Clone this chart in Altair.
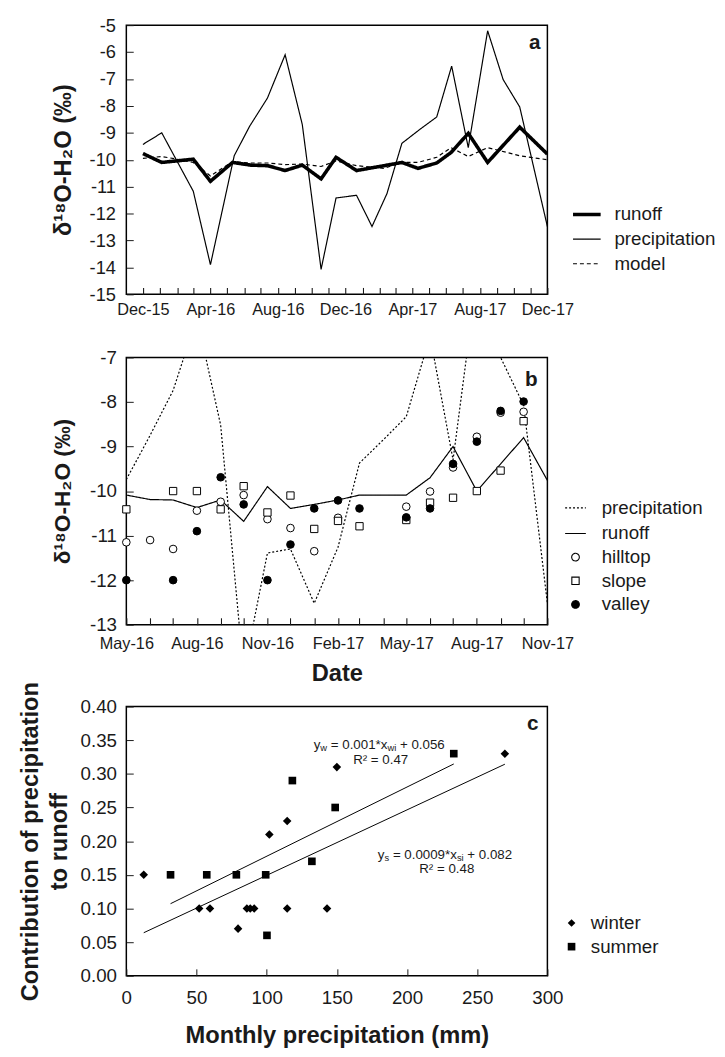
import json
import pandas as pd
import altair as alt

FONT = "Liberation Sans"
INK = "#1a1a1a"

# ---------------- Panel a : monthly d18O time series ----------------
A_SERIES = ["runoff", "precipitation", "model"]
A_PRECIP_DATES = ["2015-12-01", "2016-01-04", "2016-03-01", "2016-04-01", "2016-05-14",
                  "2016-06-11", "2016-07-13", "2016-08-14", "2016-09-14", "2016-10-18",
                  "2016-11-14", "2016-12-21", "2017-01-18", "2017-02-14", "2017-03-13",
                  "2017-04-14", "2017-05-15", "2017-06-11", "2017-07-11", "2017-08-15",
                  "2017-09-12", "2017-10-12", "2017-12-01"]
A_PRECIP = [-9.43, -9.0, -11.17, -13.9, -9.85, -8.75, -7.71, -6.1, -8.69, -14.07,
            -11.42, -11.32, -12.48, -11.26, -9.39, -8.88, -8.41, -6.52, -9.55, -5.21,
            -7.02, -8.04, -12.48]
A_RUNOFF_DATES = ["2015-12-01", "2016-01-04", "2016-02-01", "2016-03-01", "2016-04-01",
                  "2016-05-11", "2016-06-13", "2016-07-13", "2016-08-14", "2016-09-14",
                  "2016-10-18", "2016-11-14", "2016-12-21", "2017-02-09", "2017-03-13",
                  "2017-04-11", "2017-05-15", "2017-06-10", "2017-07-11", "2017-08-15",
                  "2017-10-12", "2017-12-01"]
A_RUNOFF = [-9.77, -10.1, -10.04, -9.98, -10.8, -10.1, -10.2, -10.22, -10.4, -10.2,
            -10.71, -9.91, -10.4, -10.22, -10.1, -10.32, -10.12, -9.73, -9.02, -10.1,
            -8.79, -9.79]
A_MODEL = [-9.95, -9.88, -9.98, -10.1, -10.6, -10.07, -10.12, -10.12, -10.18, -10.16,
           -10.25, -10.04, -10.22, -10.32, -10.1, -10.1, -9.91, -9.55, -9.88, -9.55,
           -9.85, -10.0]
A_TICK_LABELS = ["Dec-15", "Apr-16", "Aug-16", "Dec-16", "Apr-17", "Aug-17", "Dec-17"]
A_Y_TICKS = [-15, -14, -13, -12, -11, -10, -9, -8, -7, -6, -5]

# ---------------- Panel b : runoff, precipitation and soil water ----------------
B_SERIES = ["precipitation", "runoff", "hilltop", "slope", "valley"]
B_MONTHS = ["2016-05-01", "2016-06-01", "2016-07-01", "2016-08-01", "2016-09-01",
            "2016-10-01", "2016-11-01", "2016-12-01", "2017-01-01", "2017-02-01",
            "2017-03-01", "2017-04-01", "2017-05-01", "2017-06-01", "2017-07-01",
            "2017-08-01", "2017-09-01", "2017-10-01", "2017-11-01"]
B_PRECIP = [-9.74, -8.75, -7.74, -6.1, -8.52, -14.07, -11.39, -11.3, -12.52, -11.26,
            -9.37, -8.85, -8.33, -6.52, -9.3, -5.21, -7.0, -8.07, -12.52]
B_RUNOFF = [-10.09, -10.19, -10.2, -10.37, -10.2, -10.68, -9.9, -10.39, -10.3, -10.2,
            -10.09, None, -10.09, -9.7, -9.0, -10.0, None, -8.8, -9.76]
B_HILLTOP = [-11.15, -11.1, -11.3, -10.44, -10.24, -10.09, -10.63, -10.83, -11.35, -10.6,
             None, None, -10.35, -10.01, -9.47, -8.78, -8.24, -8.22, None]
B_SLOPE = [-10.41, None, -10.0, -10.0, -10.41, -9.89, -10.48, -10.1, -10.85, -10.67,
           -10.79, None, -10.65, -10.26, -10.15, -10.0, -9.54, -8.43, None]
B_VALLEY = [-12.0, None, -12.0, -10.9, -9.69, -10.3, -12.0, -11.2, -10.39, -10.21,
            -10.39, None, -10.59, -10.39, -9.39, -8.89, -8.2, -7.99, None]
B_TICK_LABELS = ["May-16", "Aug-16", "Nov-16", "Feb-17", "May-17", "Aug-17", "Nov-17"]
B_Y_TICKS = [-13, -12, -11, -10, -9, -8, -7]

# ---------------- Panel c : contribution vs monthly precipitation ----------------
C_SEASONS = ["winter", "summer"]
WINTER_X = [12.4, 51.9, 59.6, 79.6, 85.9, 88.3, 91.1, 101.9, 114.6, 114.6, 143.0, 150.0, 269.7]
WINTER_Y = [0.15, 0.10, 0.10, 0.07, 0.10, 0.10, 0.10, 0.21, 0.23, 0.10, 0.10, 0.31, 0.33]
SUMMER_X = [31.5, 57.3, 78.4, 99.3, 100.2, 118.3, 132.2, 148.8, 233.3]
SUMMER_Y = [0.15, 0.15, 0.15, 0.15, 0.06, 0.29, 0.17, 0.25, 0.33]
C_X_TICKS = [0, 50, 100, 150, 200, 250, 300]
C_Y_TICKS = [0.0, 0.05, 0.10, 0.15, 0.20, 0.25, 0.30, 0.35, 0.40]
# equation annotations: (text, subscript?, space before)
EQ_W = [("y", False, 0), ("w", True, 0), ("= 0.001*x", False, 1), ("wi", True, 0), ("+ 0.056", False, 1)]
EQ_S = [("y", False, 0), ("s", True, 0), ("= 0.0009*x", False, 1), ("si", True, 0), ("+ 0.082", False, 1)]
R2_W = "R² = 0.47"
R2_S = "R² = 0.48"

W = 427
H = 273

# ---------------- helpers ----------------
def dt(s):
    y, m, d = (int(p) for p in s.split("-"))
    return alt.DateTime(year=y, month=m, date=d, utc=True)


def month_ticks(start, end):
    return [dt(d.strftime("%Y-%m-%d")) for d in pd.date_range(start, end, freq="MS")]


def label_filter(labels):
    return f"indexof({json.dumps(labels)}, datum.label) >= 0 ? datum.label : ''"


NEG = "(datum.value < 0 ? '-' : '') + format(abs(datum.value), 'd')"


def time_axis(ticks, labels, **kw):
    return alt.Axis(values=ticks, format="%b-%y", labelExpr=label_filter(labels),
                    tickSize=7, offset=-7, tickWidth=1.1, domain=False, grid=False,
                    labelFlush=False, labelOverlap=False, labelBound=False,
                    labelFontSize=16.5, **kw)


def panel_label(txt, dx, dy):
    return alt.Chart(pd.DataFrame({"t": [txt]})).mark_text(
        font=FONT, fontSize=21, fontWeight="bold", align="right", baseline="top", color=INK
    ).encode(text="t:N", x=alt.value(W - dx), y=alt.value(dy))


# ---------------- panel a ----------------
a_rows = ([{"date": d, "value": v, "series": "precipitation"} for d, v in zip(A_PRECIP_DATES, A_PRECIP)]
          + [{"date": d, "value": v, "series": "model"} for d, v in zip(A_RUNOFF_DATES, A_MODEL)]
          + [{"date": d, "value": v, "series": "runoff"} for d, v in zip(A_RUNOFF_DATES, A_RUNOFF)])
a_df = pd.DataFrame(a_rows)

legend_a = alt.Legend(title=None, orient="none", legendX=451, legendY=176, symbolType="stroke",
                      symbolSize=784, symbolStrokeColor="black", labelFont=FONT, labelFontSize=19,
                      labelColor=INK, labelOffset=12, rowPadding=0, padding=0)

xa = alt.X("date:T",
           scale=alt.Scale(type="utc", domain=[dt("2015-11-01"), dt("2017-12-01")]),
           axis=time_axis(month_ticks("2015-12-01", "2017-12-01"), A_TICK_LABELS, labelPadding=7,
                          title=".", titleOpacity=0, titleFontSize=12, titlePadding=25))
ya = alt.Y("value:Q", scale=alt.Scale(domain=[-15, -5], nice=False, zero=False),
           axis=alt.Axis(values=A_Y_TICKS, labelExpr=NEG, title="δ¹⁸O-H₂O (‰)",
                         tickSize=7, offset=-7, domain=False, grid=False, labelOverlap=False,
                         labelFontSize=18.5, labelPadding=11, titlePadding=14))

lines_a = alt.Chart(a_df).mark_line(color="black", clip=True).encode(
    x=xa, y=ya,
    strokeWidth=alt.StrokeWidth("series:N", scale=alt.Scale(type="ordinal", domain=A_SERIES, range=[3.6, 1.2, 1.2]),
                                legend=legend_a),
    strokeDash=alt.StrokeDash("series:N", scale=alt.Scale(domain=A_SERIES, range=[[1, 0], [1, 0], [4, 3]]),
                              legend=legend_a),
)
chart_a = alt.layer(lines_a, panel_label("a", 7, 7)).properties(width=W, height=H)

# ---------------- panel b ----------------
b_line_rows, b_pt_rows = [], []
for name, vals in [("precipitation", B_PRECIP), ("runoff", B_RUNOFF)]:
    b_line_rows += [{"date": d, "value": v, "series": name} for d, v in zip(B_MONTHS, vals) if v is not None]
for name, vals in [("hilltop", B_HILLTOP), ("slope", B_SLOPE), ("valley", B_VALLEY)]:
    b_pt_rows += [{"date": d, "value": v, "series": name} for d, v in zip(B_MONTHS, vals) if v is not None]
b_lines_df = pd.DataFrame(b_line_rows)
b_pts_df = pd.DataFrame(b_pt_rows)

legend_b = alt.Legend(title=None, orient="none", legendX=444, legendY=141, symbolStrokeColor="black",
                      symbolStrokeWidth=1.1, labelFont=FONT, labelFontSize=19, labelColor=INK,
                      labelOffset=15, rowPadding=4, padding=0)

xb = alt.X("date:T",
           scale=alt.Scale(type="utc", domain=[dt("2016-05-01"), dt("2017-11-01")]),
           axis=time_axis(month_ticks("2016-05-01", "2017-11-01"), B_TICK_LABELS,
                          title="Date", labelPadding=11, titlePadding=10))
yb = alt.Y("value:Q", scale=alt.Scale(domain=[-13, -7], nice=False, zero=False),
           axis=alt.Axis(values=B_Y_TICKS, labelExpr=NEG, title="δ¹⁸O-H₂O (‰)",
                         tickSize=7, offset=-7, domain=False, grid=False, labelOverlap=False,
                         labelFontSize=19, labelPadding=10, titlePadding=15, titleFontSize=23))

stroke_b = alt.Stroke("series:N", scale=alt.Scale(domain=B_SERIES, range=["black"] * 5), legend=legend_b)

lines_b = alt.Chart(b_lines_df).mark_line(strokeWidth=1.2, clip=True).encode(
    x=xb, y=yb, stroke=stroke_b,
    strokeDash=alt.StrokeDash("series:N", scale=alt.Scale(domain=B_SERIES,
                              range=[[2, 2], [1, 0], [1, 0], [1, 0], [1, 0]]), legend=legend_b),
)
pts_b = alt.Chart(b_pts_df).mark_point(filled=True, strokeWidth=1, opacity=1).encode(
    x=xb, y=yb, stroke=stroke_b,
    shape=alt.Shape("series:N", scale=alt.Scale(domain=B_SERIES,
                    range=["stroke", "stroke", "circle", "square", "circle"]), legend=legend_b),
    fill=alt.Fill("series:N", scale=alt.Scale(domain=B_SERIES,
                  range=["white", "white", "white", "white", "black"]), legend=legend_b),
    size=alt.Size("series:N", scale=alt.Scale(type="ordinal", domain=B_SERIES,
                  range=[441, 441, 60, 55, 60]), legend=legend_b),
)
chart_b = alt.layer(lines_b, pts_b, panel_label("b", 10, 12)).properties(width=W, height=H - 2)

# ---------------- panel c ----------------
c_df = pd.DataFrame(
    [{"x": x, "y": y, "season": "winter"} for x, y in zip(WINTER_X, WINTER_Y)]
    + [{"x": x, "y": y, "season": "summer"} for x, y in zip(SUMMER_X, SUMMER_Y)]
)

x_scale_c = alt.Scale(domain=[0, 300], nice=False, zero=False)
y_scale_c = alt.Scale(domain=[0, 0.4], nice=False, zero=False)
xc = alt.X("x:Q", scale=x_scale_c,
           axis=alt.Axis(values=C_X_TICKS, format="d", title="Monthly precipitation (mm)",
                         tickSize=7, offset=-7, domain=False, grid=False, labelFlush=False,
                         labelOverlap=False, labelFontSize=19, labelPadding=13, titlePadding=17))
yc = alt.Y("y:Q", scale=y_scale_c,
           axis=alt.Axis(values=C_Y_TICKS, format=".2f", tickCount=20,
                         title=["Contribution of precipitation", "to runoff"], titleLineHeight=29,
                         tickSize=7, offset=-7, domain=False, grid=False, labelOverlap=False,
                         labelFlush=False, labelFontSize=19, labelPadding=10, titlePadding=9))

legend_c = alt.Legend(title=None, orient="none", legendX=442, legendY=210, symbolFillColor="black",
                      symbolStrokeColor="black", symbolSize=60, labelFont=FONT, labelFontSize=19,
                      labelColor=INK, labelOffset=10, rowPadding=4, padding=0)
shape_c = alt.Shape("season:N", scale=alt.Scale(domain=C_SEASONS, range=["diamond", "square"]),
                    legend=legend_c)

reg_c = alt.Chart(c_df).transform_regression("x", "y", groupby=["season"]).mark_line(
    color="black", strokeWidth=1).encode(x=xc, y=yc, detail="season:N")
winter_c = alt.Chart(c_df[c_df.season == "winter"]).mark_point(
    filled=True, color="black", opacity=1, size=75).encode(x=xc, y=yc, shape=shape_c)
summer_c = alt.Chart(c_df[c_df.season == "summer"]).mark_point(
    filled=True, color="black", opacity=1, size=60).encode(x=xc, y=yc, shape=shape_c)

EM = {"y": .5, "w": .722, "i": .222, "s": .5, " ": .278, "=": .584, ".": .278, "*": .389,
      "x": .5, "+": .584, "R": .722, "²": .333}


def text_w(t, size):
    return sum(EM.get(ch, .556) for ch in t) * size


def equation(pieces, x0, y0, big=13.5, small=9.5):
    layers = []
    dx = 0.0
    for txt, sub, gap in pieces:
        size = small if sub else big
        dx += gap * EM[" "] * big
        layers.append(
            alt.Chart(pd.DataFrame({"x": [x0], "y": [y0], "t": [txt]})).mark_text(
                align="left", baseline="middle", dx=dx, dy=3.5 if sub else 0,
                font=FONT, fontSize=size, color=INK
            ).encode(x=xc, y=yc, text="t:N")
        )
        dx += text_w(txt, size)
    return layers


def plain_text(txt, x0, y0, size=13.5):
    return alt.Chart(pd.DataFrame({"x": [x0], "y": [y0], "t": [txt]})).mark_text(
        align="left", baseline="middle", font=FONT, fontSize=size, color=INK
    ).encode(x=xc, y=yc, text="t:N")


eq_layers = (equation(EQ_W, 133.5, 0.343) + [plain_text(R2_W, 161.6, 0.321)]
             + equation(EQ_S, 179.2, 0.180) + [plain_text(R2_S, 208.7, 0.159)])

chart_c = alt.layer(reg_c, winter_c, summer_c, *eq_layers, panel_label("c", 9, 7)).properties(width=W, height=H)

IND = dict(shape="independent", fill="independent", strokeDash="independent",
           size="independent", strokeWidth="independent", stroke="independent")

chart = alt.concat(chart_a, chart_b, chart_c, columns=1, align="each", spacing=-7).resolve_scale(
    **IND).resolve_legend(**IND).properties(
    padding={"left": 10, "top": 0, "right": 0, "bottom": 0}
).configure(font=FONT).configure_view(stroke="black", strokeWidth=1.5).configure_axis(
    labelFont=FONT, titleFont=FONT, labelColor=INK, titleColor=INK, tickColor=INK,
    titleFontWeight="bold", titleFontSize=24, domain=False, grid=False
)

chart.save("out.html", embed_options={"renderer": "svg", "actions": False})
